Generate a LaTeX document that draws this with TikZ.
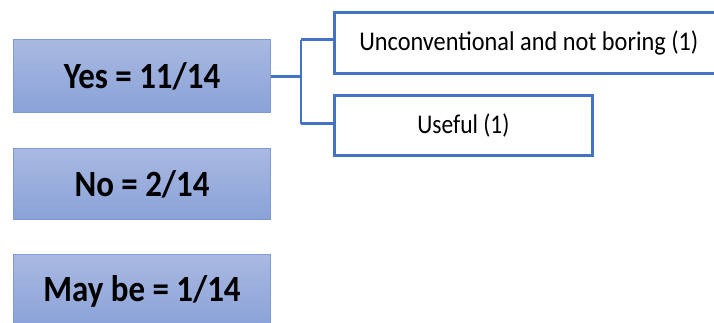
\documentclass[tikz,border=0pt]{standalone}
\usepackage{fontspec}
\setmainfont{Carlito}
\definecolor{officeblue}{HTML}{4472C4}
\definecolor{boxtop}{HTML}{A9B9E1}
\definecolor{boxbot}{HTML}{8AA2D8}
\definecolor{boxedge}{HTML}{7D9AD6}
% narrowed type, as set in the slide
\newcommand{\narrowtext}[2]{\scalebox{#1}[1]{#2}}
\begin{document}
\begin{tikzpicture}[x=1pt,y=-1pt,
  answer/.style={draw=boxedge,line width=1pt,top color=boxtop,bottom color=boxbot,
    minimum width=257pt,minimum height=73pt,inner sep=0pt,
    font=\fontsize{37}{40}\selectfont\bfseries},
  reason/.style={draw=officeblue,line width=2.8pt,fill=white,inner sep=0pt,
    font=\fontsize{27}{30}\selectfont},
  link/.style={draw=officeblue,line width=2.8pt}]
\useasboundingbox (0,0) rectangle (714,322);
\clip (0,0) rectangle (714,322);
% answer boxes
\node[answer,anchor=north west] (yes) at (13,39) {\narrowtext{0.89}{Yes = 11/14}};
\node[answer,anchor=north west,minimum height=71pt] (no) at (13,148) {\narrowtext{0.89}{No = 2/14}};
\node[answer,anchor=north west] (maybe) at (13,254) {\narrowtext{0.89}{May be = 1/14}};
% reasons given for yes
\node[reason,anchor=north west,minimum width=389pt,minimum height=61pt] (r1) at (333,11) {\narrowtext{0.90}{Unconventional and not boring (1)}};
\node[reason,anchor=north west,minimum width=258pt,minimum height=60pt] (r2) at (333,94) {\narrowtext{0.87}{Useful (1)}};
% bracket
\coordinate (fork) at (301,76.5);
\draw[link] (yes.east |- fork) -- (fork);
\draw[link] (fork |- 0,39.5) -- (fork |- 0,123.5);
\draw[link] (fork |- 0,39.5) -- (r1.west |- 0,39.5);
\draw[link] (fork |- 0,123.5) -- (r2.west |- 0,123.5);
\end{tikzpicture}
\end{document}
